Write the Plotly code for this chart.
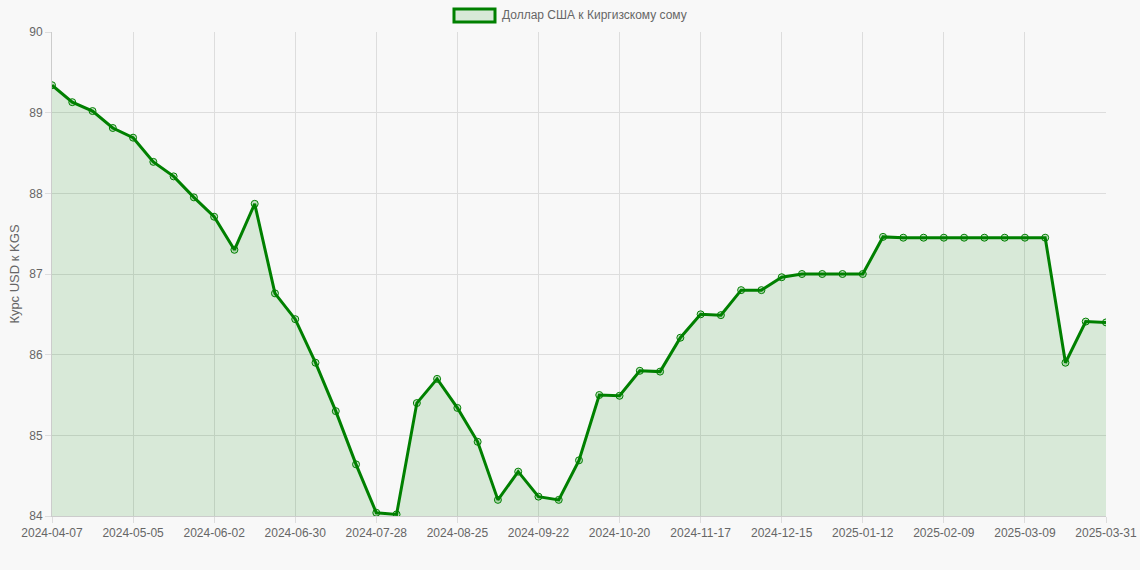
import pandas as pd
import plotly.graph_objects as go

series_name = "Доллар США к Киргизскому сому"
y_title = "Курс USD к KGS"

dates = [d.strftime("%Y-%m-%d") for d in pd.date_range("2024-04-07", periods=52, freq="7D")] + ["2025-03-31"]

rates = [
    89.34, 89.13, 89.02, 88.81, 88.69, 88.39, 88.21, 87.95, 87.71, 87.30,
    87.87, 86.76, 86.44, 85.90, 85.30, 84.64, 84.04, 84.02, 85.40, 85.70,
    85.34, 84.92, 84.20, 84.55, 84.24, 84.20, 84.69, 85.50, 85.49, 85.80,
    85.79, 86.21, 86.50, 86.49, 86.80, 86.80, 86.96, 87.00, 87.00, 87.00,
    87.00, 87.46, 87.45, 87.45, 87.45, 87.45, 87.45, 87.45, 87.45, 87.45,
    85.90, 86.41, 86.40,
]

tick_labels = dates[::4] + [dates[-1]]
y_ticks = [84, 85, 86, 87, 88, 89, 90]

green = "#008000"
fill_col = "rgba(0,128,0,0.13)"

fig = go.Figure()
fig.add_trace(go.Scatter(
    x=dates, y=rates, name=series_name, showlegend=False,
    mode="lines+markers",
    line=dict(color=green, width=3),
    marker=dict(symbol="circle", size=7, color="rgba(0,128,0,0.2)",
                line=dict(color=green, width=1)),
    fill="tozeroy", fillcolor=fill_col,
    hoverinfo="skip",
))

# legend drawn as a box + label, like the reference legend
fig.add_shape(type="rect", xref="paper", yref="paper",
              x0=0.3814, x1=0.4203, y0=1.0207, y1=1.0475,
              line=dict(color=green, width=3), fillcolor="rgba(0,128,0,0.13)")
fig.add_annotation(text=series_name, xref="paper", yref="paper",
                   x=0.4250, y=1.0351, xanchor="left", yanchor="middle",
                   showarrow=False, font=dict(size=12, color="#666"))

fig.update_layout(
    width=1140, height=570,
    margin=dict(l=52, r=34, t=32, b=54, autoexpand=False),
    paper_bgcolor="#f8f8f8", plot_bgcolor="#f8f8f8",
    font=dict(family="Liberation Sans, Arial, sans-serif", size=12, color="#666"),
    showlegend=False,
    hovermode=False,
)
fig.update_xaxes(
    type="category", range=[0, len(dates) - 1], automargin=False,
    tickmode="array", tickvals=tick_labels, ticktext=tick_labels,
    showgrid=True, gridcolor="#dddddd", gridwidth=1,
    ticks="outside", ticklen=6, tickcolor="#dddddd",
    showline=True, linecolor="#cccccc", mirror=False,
    tickangle=0, tickfont=dict(size=12, color="#666"),
    zeroline=False,
)
fig.update_yaxes(
    range=[84, 90], tickvals=y_ticks, automargin=False,
    showgrid=True, gridcolor="#dddddd", gridwidth=1,
    ticks="outside", ticklen=6, tickcolor="#dddddd",
    showline=True, linecolor="#cccccc",
    title=dict(text=y_title, font=dict(size=13, color="#666"), standoff=6),
    tickfont=dict(size=12, color="#666"),
    zeroline=False,
)

fig.write_html("out.html", config={"displayModeBar": False},
               post_script="document.body.style.margin='0px';")
